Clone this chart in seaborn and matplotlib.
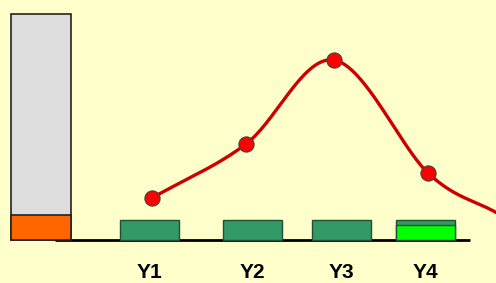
import numpy as np
import pandas as pd
import matplotlib
matplotlib.use("Agg")
import matplotlib.pyplot as plt
import seaborn as sns

# ---- data ----
categories = ["Y1", "Y2", "Y3", "Y4"]
bar_values = [20, 20, 20, 20]          # green bars
bar_highlight = [0, 0, 0, 15]          # lime part
line_values = [42, 96, 180, 67]        # red curve points
tail_value = 27                        # curve continues off to the right
ref_total = 226                        # tall grey reference bar
ref_part = 25                          # orange part of it

# ---- layout ----
bar_x = [149.5, 252.5, 341.5, 425.5]
point_x = [152, 246, 334, 428]
tail_x = 497
ref_x = 41
bar_w = 59
ref_w = 60
BG = "#FFFFCC"

sns.set_theme(style="white")
plt.rcParams["font.family"] = ["Liberation Sans", "DejaVu Sans"]

fig = plt.figure(figsize=(4.96, 2.83), dpi=100)
fig.patch.set_facecolor(BG)
ax = fig.add_axes([0, 0, 1, 1])
ax.set_facecolor(BG)

# reference bar
ax.bar(ref_x, ref_total, width=ref_w, color="#DDDDDD", edgecolor="#222222", linewidth=1.2, zorder=2)
ax.bar(ref_x, ref_part, width=ref_w, color="#FF6600", edgecolor="#222222", linewidth=1.2, zorder=3)

# baseline
ax.plot([55, 470], [0, 0], color="black", lw=2, zorder=1, solid_capstyle="butt")

# green bars
ax.bar(bar_x, bar_values, width=bar_w, color="#339966", edgecolor="#1f4f35", linewidth=1.0, zorder=3)
hl = [v if v > 0 else np.nan for v in bar_highlight]
ax.bar(bar_x, hl, width=bar_w, color="#00FF00", edgecolor="#1f4f35", linewidth=1.0, zorder=4)

# smooth curve (Catmull-Rom through the points)
px = np.array(point_x + [tail_x], dtype=float)
py = np.array(line_values + [tail_value], dtype=float)
P = np.column_stack([px, py])
P_ext = np.vstack([2 * P[0] - P[1], P, 2 * P[-1] - P[-2]])
xs, ys = [], []
for i in range(1, len(P_ext) - 2):
    p0, p1, p2, p3 = P_ext[i - 1], P_ext[i], P_ext[i + 1], P_ext[i + 2]
    t = np.linspace(0, 1, 60)[:, None]
    pts = 0.5 * ((2 * p1) + (-p0 + p2) * t + (2 * p0 - 5 * p1 + 4 * p2 - p3) * t**2
                 + (-p0 + 3 * p1 - 3 * p2 + p3) * t**3)
    xs.extend(pts[:, 0]); ys.extend(pts[:, 1])
curve = pd.DataFrame({"x": xs, "y": ys})
sns.lineplot(data=curve, x="x", y="y", sort=False, color="#CC0000", lw=2.4, ax=ax, zorder=5)

pts_df = pd.DataFrame({"x": point_x, "y": line_values, "cat": categories})
sns.scatterplot(data=pts_df, x="x", y="y", s=120, color="#FF0000", edgecolor="#444444",
                linewidth=0.8, ax=ax, zorder=6)

for x, c in zip(bar_x, categories):
    ax.text(x, -33, c, ha="center", va="center", fontsize=15, fontweight="bold", color="black")

ax.set_xlim(0, 496)
ax.set_ylim(-43, 240)
ax.axis("off")
fig.savefig("out.png", dpi=100, facecolor=BG)
